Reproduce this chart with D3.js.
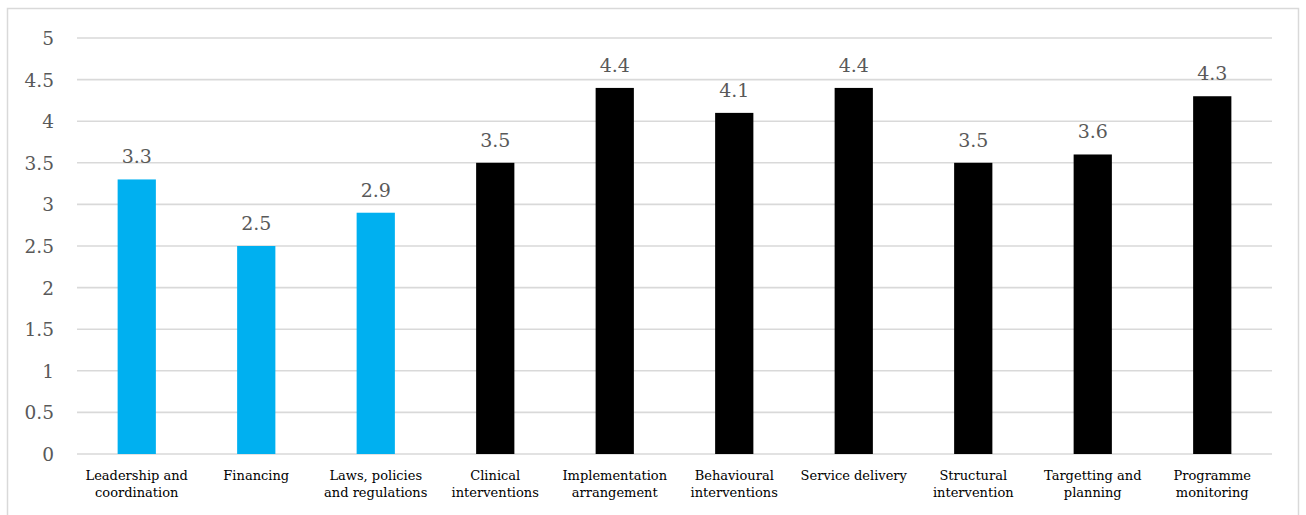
<!DOCTYPE html>
<html>
<head>
<meta charset="utf-8">
<script src="https://cdn.jsdelivr.net/npm/d3@7"></script>
<style>
  html, body { margin: 0; padding: 0; background: #fff; }
  svg { display: block; }
</style>
</head>
<body>
<svg id="chart" width="1306" height="515"></svg>
<script>
// Scores by programme component
const categories = [
  ["Leadership and", "coordination"],
  ["Financing"],
  ["Laws, policies", "and regulations"],
  ["Clinical", "interventions"],
  ["Implementation", "arrangement"],
  ["Behavioural", "interventions"],
  ["Service delivery"],
  ["Structural", "intervention"],
  ["Targetting and", "planning"],
  ["Programme", "monitoring"]
];
const values = [3.3, 2.5, 2.9, 3.5, 4.4, 4.1, 4.4, 3.5, 3.6, 4.3];
const groups = ["blue", "blue", "blue", "black", "black", "black", "black", "black", "black", "black"];
const yTicks = [0, 0.5, 1, 1.5, 2, 2.5, 3, 3.5, 4, 4.5, 5];

const fillFor = { blue: "#00b0f0", black: "#000000" };
const font = "'DejaVu Serif', serif";
const textColor = "#595959";

const svg = d3.select("#chart");
const margin = { left: 77, right: 1272, top: 38, bottom: 454 };

// Outer frame
svg.append("rect")
  .attr("x", 7.5).attr("y", 8.5)
  .attr("width", 1291).attr("height", 520)
  .attr("fill", "none")
  .attr("stroke", "#d9d9d9")
  .attr("stroke-width", 1.5);

const keys = categories.map(c => c.join(" "));
const x = d3.scaleBand()
  .domain(keys)
  .range([margin.left, margin.right])
  .paddingInner(0.68)
  .paddingOuter(0.34);

const y = d3.scaleLinear()
  .domain([0, 5])
  .range([margin.bottom, margin.top]);

// Gridlines
svg.append("g")
  .selectAll("line")
  .data(yTicks)
  .join("line")
  .attr("x1", margin.left).attr("x2", margin.right)
  .attr("y1", d => y(d)).attr("y2", d => y(d))
  .attr("stroke", "#d9d9d9")
  .attr("stroke-width", 1.6);

// Y axis labels
const yAxis = d3.axisLeft(y)
  .tickValues(yTicks)
  .tickFormat(d3.format("~g"))
  .tickSize(0)
  .tickPadding(0);
const yg = svg.append("g")
  .attr("transform", `translate(54,0)`)
  .call(yAxis);
yg.select(".domain").remove();
yg.selectAll("text")
  .attr("font-family", font)
  .attr("font-size", 18.5)
  .attr("fill", textColor)
  .attr("dy", "0.35em");

// Bars
svg.append("g")
  .selectAll("rect")
  .data(values)
  .join("rect")
  .attr("x", (d, i) => x(keys[i]))
  .attr("width", x.bandwidth())
  .attr("y", d => y(d))
  .attr("height", d => y(0) - y(d))
  .attr("fill", (d, i) => fillFor[groups[i]]);

// Value labels
svg.append("g")
  .selectAll("text")
  .data(values)
  .join("text")
  .attr("x", (d, i) => x(keys[i]) + x.bandwidth() / 2)
  .attr("y", d => y(d) - 16)
  .attr("text-anchor", "middle")
  .attr("font-family", font)
  .attr("font-size", 19)
  .attr("fill", textColor)
  .text(d => d3.format(".1f")(d));

// Category labels
const xg = svg.append("g")
  .selectAll("text")
  .data(categories)
  .join("text")
  .attr("x", (d, i) => x(keys[i]) + x.bandwidth() / 2)
  .attr("y", 480)
  .attr("text-anchor", "middle")
  .attr("font-family", font)
  .attr("font-size", 13)
  .attr("fill", "#000");
xg.selectAll("tspan")
  .data(d => d)
  .join("tspan")
  .attr("x", function () { return this.parentNode.getAttribute("x"); })
  .attr("dy", (d, i) => i === 0 ? 0 : 17)
  .text(d => d);
</script>
</body>
</html>
